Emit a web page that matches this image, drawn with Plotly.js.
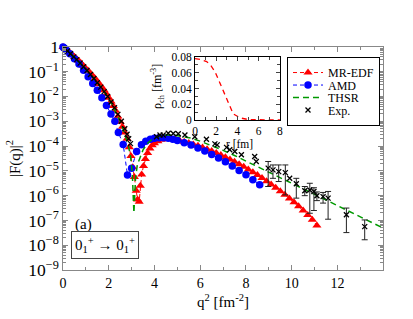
<!DOCTYPE html>
<html>
<head>
<meta charset="utf-8">
<script src="https://cdn.plot.ly/plotly-3.0.1.min.js"></script>
<style>html,body{margin:0;padding:0;background:#fff;}#chart{width:413px;height:319px;}</style>
</head>
<body>
<div id="chart"></div>
<script>
// ---- data (q^2 in fm^-2, values given as log10 |F(q)|^2) ----
const mrX = [0.00,0.1,0.2,0.3,0.4,0.5,0.6,0.7,0.8,0.9,1.0,1.1,1.2,1.3,1.4,1.5,1.6,1.7,1.8,1.9,2.0,2.1,2.2,2.3,2.4,2.5,2.6,2.7,2.8,2.9,2.97,3.05,3.12,3.2,3.26,3.33,3.38,3.44,3.52,3.6,3.7,3.8,3.9,4.0,4.15,4.3,4.5,4.7,4.9,5.1,5.3,5.5,5.7,5.9,6.1,6.3,6.5,6.7,6.9,7.1,7.3,7.5,7.7,7.9,8.1,8.3,8.5,8.7,8.9,9.1,9.3,9.5,9.7,9.9,10.1,10.3,10.5,10.7,10.9,11.1];
const mrLog = [0.00,-0.07,-0.15,-0.23,-0.31,-0.39,-0.48,-0.57,-0.67,-0.77,-0.87,-0.96,-1.06,-1.16,-1.27,-1.38,-1.5,-1.62,-1.75,-1.9,-2.05,-2.2,-2.38,-2.57,-2.8,-3.02,-3.22,-3.45,-3.7,-4.05,-4.4,-4.85,-5.25,-5.8,-6.15,-6.25,-5.6,-5.15,-4.8,-4.52,-4.28,-4.1,-3.97,-3.88,-3.8,-3.74,-3.71,-3.71,-3.73,-3.77,-3.82,-3.87,-3.93,-3.99,-4.06,-4.13,-4.2,-4.28,-4.36,-4.45,-4.54,-4.63,-4.73,-4.83,-4.94,-5.05,-5.17,-5.29,-5.42,-5.55,-5.68,-5.82,-5.96,-6.11,-6.27,-6.43,-6.6,-6.78,-6.97,-7.2];

const amdX = [0.00,0.05,0.15,0.3,0.5,0.7,0.9,1.1,1.3,1.5,1.7,1.9,2.1,2.27,2.42,2.63,2.82,3.0,3.22,3.43,3.62,3.82,4.0,4.2,4.4,4.6,4.8,5.0,5.3,5.6,5.9,6.2,6.5,6.8,7.1,7.4,7.7,8.0,8.3,8.6];
const amdLog = [0.00,-0.04,-0.13,-0.27,-0.47,-0.69,-0.94,-1.2,-1.47,-1.75,-2.05,-2.36,-2.7,-3.0,-3.45,-3.93,-5.17,-4.89,-4.22,-3.95,-3.8,-3.72,-3.68,-3.66,-3.66,-3.68,-3.72,-3.77,-3.86,-3.96,-4.08,-4.2,-4.34,-4.48,-4.63,-4.8,-4.98,-5.16,-5.36,-5.56];

const thsrX = [0,0.5,1.0,1.5,2.0,2.3,2.5,2.7,2.85,2.95,3.03,3.1,3.17,3.25,3.36,3.5,3.7,3.9,4.2,4.5,4.8,5.2,5.6,6.0,6.5,7.0,7.5,8.0,9.0,10.0,11.0,12.0,13.0,14.0];
const thsrLog = [0,-0.42,-0.9,-1.42,-2.07,-2.6,-3.0,-3.5,-3.95,-4.4,-5.1,-6.7,-5.3,-4.75,-4.45,-4.15,-3.88,-3.72,-3.6,-3.55,-3.55,-3.6,-3.68,-3.8,-3.97,-4.17,-4.38,-4.6,-5.05,-5.5,-5.95,-6.4,-6.86,-7.31];

const expX = [0.08,0.2,0.33,0.47,0.6,0.75,0.9,1.05,1.2,1.35,1.5,1.65,1.8,1.95,2.1,2.25,2.4,2.55,2.7,2.8,2.87,2.95,4.09,4.24,4.38,4.6,4.82,5.04,5.33,5.76,6.27,6.64,6.74,7.15,7.29,7.51,7.8,8.38,8.45,9.91];
const expLog = [-0.06,-0.16,-0.27,-0.4,-0.51,-0.65,-0.8,-0.95,-1.11,-1.27,-1.44,-1.62,-1.8,-2.0,-2.22,-2.45,-2.72,-3.0,-3.3,-3.52,-3.7,-3.9,-3.62,-3.55,-3.55,-3.48,-3.49,-3.5,-3.55,-3.62,-3.72,-3.91,-3.95,-4.05,-4.15,-4.22,-4.35,-4.42,-4.62,-5.3];

const expErrX = [8.97,9.18,9.43,9.72,10.2,10.57,10.79,10.97,11.1,11.37,11.59,12.39,13.19];
const expErrLog = [-4.89,-4.96,-5.03,-5.07,-5.52,-5.8,-5.77,-5.83,-6.0,-6.04,-6.1,-6.77,-7.25];
const expErrTopLog = [-4.62,-4.76,-4.76,-4.76,-5.3,-5.63,-5.5,-5.68,-5.85,-5.87,-5.83,-6.5,-6.98];
const expErrBotLog = [-5.63,-5.3,-5.43,-5.97,-6.1,-6.0,-6.71,-6.6,-6.2,-6.3,-6.95,-7.49,-7.78];

// inset: charge density
const rhoR = [0,0.5,1.1,1.5,1.88,2.35,2.98,3.6,4.24,5.0,6.0,7.0,8.0];
const rhoV = [0.078,0.077,0.0743,0.069,0.0614,0.0465,0.025,0.0077,0.0026,0.0005,0.0002,0.0001,0.0001];

const xTickVals = [0,2,4,6,8,10,12];

// ---- build ----
const p10 = a => a.map(v => Math.pow(10, v));
const expErrY = p10(expErrLog);
const errPlus = expErrTopLog.map((t,i) => Math.pow(10,t) - expErrY[i]);
const errMinus = expErrBotLog.map((b,i) => expErrY[i] - Math.pow(10,b));

const serif = 'Liberation Serif, serif';
const traces = [
  {x: mrX, y: p10(mrLog), name: 'MR-EDF', mode: 'lines+markers', cliponaxis: false,
   line: {color: '#ff0000', dash: '4px,3px', width: 1},
   marker: {symbol: 'triangle-up', size: 8, color: '#ff0000'}},
  {x: amdX, y: p10(amdLog), name: 'AMD', mode: 'lines+markers', cliponaxis: false,
   line: {color: '#0000ff', dash: '4px,3px', width: 1},
   marker: {symbol: 'circle', size: 7.5, color: '#0000ff'}},
  {x: thsrX, y: p10(thsrLog), name: 'THSR', mode: 'lines', cliponaxis: false,
   line: {color: '#009900', dash: '6px,4px', width: 1.5}},
  {x: expX, y: p10(expLog), name: 'Exp.', mode: 'markers', cliponaxis: false,
   marker: {symbol: 'x-thin-open', size: 5, color: '#000', line: {width: 1.3, color: '#000'}}},
  {x: expErrX, y: expErrY, name: 'Exp.', mode: 'markers', showlegend: false, cliponaxis: false,
   marker: {symbol: 'x-thin-open', size: 5, color: '#000', line: {width: 1.3, color: '#000'}},
   error_y: {type: 'data', symmetric: false, array: errPlus, arrayminus: errMinus, color: '#222', thickness: 1, width: 3}},
  {x: rhoR, y: rhoV, xaxis: 'x2', yaxis: 'y2', mode: 'lines', showlegend: false,
   line: {color: '#ff0000', dash: '5px,4px', width: 1.3}}
];

const layout = {
  width: 413, height: 319,
  margin: {l: 63, r: 30, t: 47, b: 49},
  paper_bgcolor: '#fff', plot_bgcolor: '#fff',
  font: {family: serif, color: '#000', size: 14},
  showlegend: true,
  legend: {x: 0.7, y: 0.955, xanchor: 'left', yanchor: 'top',
    bordercolor: '#000', borderwidth: 1, bgcolor: '#fff',
    font: {family: serif, size: 12}, tracegroupgap: 0, itemwidth: 30},
  xaxis: {range: [0, 13.99], tickmode: 'array', tickvals: xTickVals, ticks: 'inside', ticklen: 5,
    showline: true, linecolor: '#888', linewidth: 1.3, mirror: 'allticks', showgrid: false, zeroline: false,
    tickcolor: '#888', tickfont: {size: 14},
    minor: {tickmode: 'linear', tick0: 0, dtick: 1, ticks: 'inside', ticklen: 3, tickcolor: '#888', showgrid: false},
    title: {text: 'q<sup>2</sup> [fm<sup>-2</sup>]', font: {size: 15}, standoff: 6}},
  yaxis: {type: 'log', range: [-9, 0], dtick: 1, exponentformat: 'power', ticks: 'inside', ticklen: 5,
    showline: true, linecolor: '#888', linewidth: 1.3, mirror: 'allticks', showgrid: false, zeroline: false,
    tickcolor: '#888', tickfont: {size: 14},
    minor: {dtick: 'D1', ticks: 'inside', ticklen: 3, tickcolor: '#888', showgrid: false},
    title: {text: '|F(q)|<sup>2</sup>', font: {size: 15}, standoff: 4}},
  xaxis2: {domain: [0.4125, 0.678], anchor: 'y2', range: [0, 8], dtick: 2, ticks: 'inside', ticklen: 4,
    showline: true, linecolor: '#000', linewidth: 1, mirror: 'allticks', showgrid: false, zeroline: false,
    tickfont: {size: 11.5},
    minor: {dtick: 1, ticks: 'inside', ticklen: 2.5, showgrid: false}},
  yaxis2: {domain: [0.673, 0.955], anchor: 'x2', range: [0, 0.08], dtick: 0.02, ticks: 'inside', ticklen: 4,
    showline: true, linecolor: '#000', linewidth: 1, mirror: 'allticks', showgrid: false, zeroline: false,
    tickfont: {size: 11.5},
    minor: {dtick: 0.01, ticks: 'inside', ticklen: 2.5, showgrid: false}},
  annotations: [
    {text: 'r [fm]', xref: 'paper', yref: 'paper', x: 0.55, y: (270-144)/223, xanchor: 'center', yanchor: 'middle',
     showarrow: false, font: {size: 11.5}},
    {text: 'ρ<sub>ch</sub> [fm<sup>-3</sup>]', xref: 'paper', yref: 'paper', x: (157-63)/320, y: (270-87)/223,
     xanchor: 'center', yanchor: 'middle', textangle: -90, showarrow: false, font: {size: 12}},
    {text: '(a)', xref: 'paper', yref: 'paper', x: 0.03, y: 0.206, xanchor: 'left', yanchor: 'middle',
     showarrow: false, font: {size: 15}},
    {text: '0<sub>1</sub><sup>+</sup> → 0<sub>1</sub><sup>+</sup>', xref: 'paper', yref: 'paper', x: 0.131, y: 0.11,
     xanchor: 'center', yanchor: 'middle', showarrow: false, font: {size: 15},
     bordercolor: '#444', borderwidth: 1, borderpad: 3, bgcolor: '#fff'}
  ]
};

Plotly.newPlot('chart', traces, layout, {displayModeBar: false, staticPlot: true}).then(gd => {
  // tighten legend row spacing to match the compact legend of the original figure
  try {
    const leg = gd.querySelector('.legend');
    const items = leg.querySelectorAll('.traces');
    const spacing = 12.5;
    let y0 = null, oldStep = null, prevY = null;
    items.forEach((el, i) => {
      const m = /translate\(\s*([-\d.]+)[ ,]+([-\d.]+)\s*\)/.exec(el.getAttribute('transform') || '');
      if (!m) return;
      const x = parseFloat(m[1]), y = parseFloat(m[2]);
      if (i === 0) y0 = y;
      if (i === 1) oldStep = y - prevY;
      prevY = y;
      el.setAttribute('transform', 'translate(' + x + ',' + (y0 + i * spacing) + ')');
    });
    if (oldStep) {
      const shrink = (items.length - 1) * (oldStep - spacing);
      leg.querySelectorAll('rect.bg').forEach(r => {
        const h = parseFloat(r.getAttribute('height'));
        r.setAttribute('height', h - shrink);
      });
    }
  } catch (e) {}
});
</script>
</body>
</html>
